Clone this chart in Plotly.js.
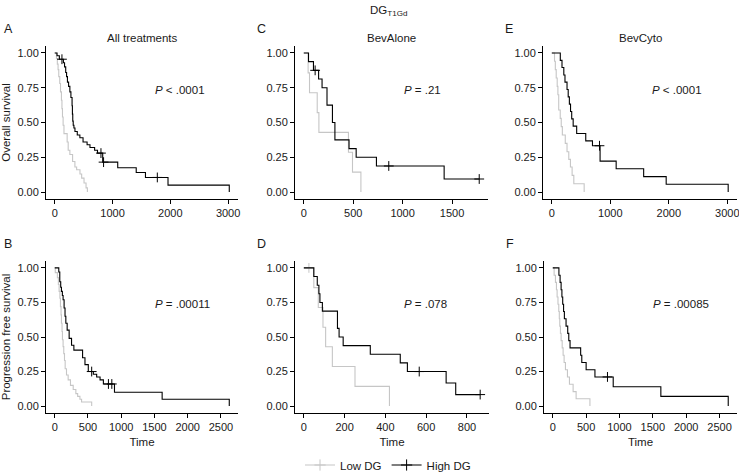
<!DOCTYPE html>
<html><head><meta charset="utf-8">
<script src="https://cdn.plot.ly/plotly-3.0.1.min.js"></script>
<style>html,body{margin:0;padding:0;background:#fff}</style>
</head><body><div id="chart" style="width:739px;height:475px"></div>
<script>
// ---------- Data ----------
const groupNames = ['Low DG', 'High DG'];
const panelLetters = ['A', 'B', 'C', 'D', 'E', 'F'];
const treatmentTitles = ['All treatments', 'BevAlone', 'BevCyto'];
const rowTitles = ['Overall survival', 'Progression free survival'];
const pValues = ['<i>P</i> &lt; .0001', '<i>P</i> = .00011', '<i>P</i> = .21', '<i>P</i> = .078', '<i>P</i> &lt; .0001', '<i>P</i> = .00085'];
const yTickVals = [0, 0.25, 0.5, 0.75, 1];
const xTickSteps = [1000, 500, 500, 200, 1000, 500];

// A: overall survival, all treatments
const osAllLowT = [0, 30, 45, 58, 70, 87, 100, 116, 125, 134, 145, 160, 215, 233, 262, 309, 349, 379, 437, 466, 507, 542, 565];
const osAllLowS = [1, 0.96, 0.92, 0.88, 0.83, 0.78, 0.72, 0.66, 0.60, 0.54, 0.48, 0.42, 0.36, 0.30, 0.27, 0.22, 0.18, 0.16, 0.13, 0.10, 0.065, 0.03, 0];
const osAllLowCens = [];
const osAllHighT = [0, 40, 80, 150, 170, 190, 205, 220, 240, 262, 280, 300, 306, 312, 320, 332, 350, 390, 435, 490, 560, 610, 690, 740, 830, 1090, 1410, 1570, 1960, 3020];
const osAllHighS = [1, 0.98, 0.955, 0.93, 0.90, 0.86, 0.83, 0.79, 0.76, 0.72, 0.68, 0.62, 0.56, 0.51, 0.48, 0.46, 0.435, 0.41, 0.39, 0.36, 0.34, 0.32, 0.30, 0.28, 0.215, 0.175, 0.14, 0.105, 0.05, 0];
const osAllHighCens = [125, 800, 845, 1775];

// B: progression free survival, all treatments
const pfsAllLowT = [0, 8, 40, 55, 66, 78, 86, 95, 101, 110, 116, 126, 136, 147, 157, 177, 202, 237, 278, 318, 345, 379, 404, 556];
const pfsAllLowS = [1, 0.966, 0.93, 0.88, 0.83, 0.78, 0.72, 0.66, 0.60, 0.54, 0.48, 0.43, 0.38, 0.33, 0.27, 0.225, 0.19, 0.15, 0.12, 0.09, 0.07, 0.05, 0.03, 0];
const pfsAllLowCens = [];
const pfsAllHighT = [0, 61, 76, 90, 101, 115, 126, 141, 155, 167, 187, 217, 253, 288, 419, 455, 505, 581, 631, 682, 732, 899, 1616, 2626];
const pfsAllHighS = [1, 0.97, 0.90, 0.86, 0.83, 0.80, 0.77, 0.71, 0.65, 0.60, 0.55, 0.49, 0.44, 0.405, 0.35, 0.30, 0.25, 0.23, 0.21, 0.19, 0.16, 0.10, 0.05, 0];
const pfsAllHighCens = [556, 808, 859];

// C: overall survival, BevAlone
const osBevLowT = [0, 44, 58, 136, 153, 452, 493, 578];
const osBevLowS = [1, 0.857, 0.714, 0.571, 0.429, 0.286, 0.143, 0];
const osBevLowCens = [];
const osBevHighT = [0, 48, 98, 150, 185, 235, 290, 315, 458, 530, 735, 1420];
const osBevHighS = [1, 0.9375, 0.875, 0.8125, 0.75, 0.625, 0.5, 0.375, 0.3125, 0.25, 0.1875, 0.09375];
const osBevHighCens = [115, 860, 1775];

// D: progression free survival, BevAlone
const pfsBevLowT = [0, 49, 71, 94, 107, 140, 251, 420];
const pfsBevLowS = [1, 0.857, 0.714, 0.571, 0.429, 0.286, 0.143, 0];
const pfsBevLowCens = [25];
const pfsBevHighT = [0, 49, 66, 74, 79, 91, 165, 173, 193, 326, 473, 508, 698, 745];
const pfsBevHighS = [1, 0.9375, 0.875, 0.8125, 0.75, 0.6875, 0.5625, 0.5, 0.4375, 0.375, 0.3125, 0.25, 0.1667, 0.0833];
const pfsBevHighCens = [566, 865];

// E: overall survival, BevCyto
const osCytoLowT = [0, 46, 60, 75, 92, 104, 118, 144, 161, 180, 230, 260, 290, 318, 347, 376, 553];
const osCytoLowS = [1, 0.94, 0.88, 0.82, 0.76, 0.70, 0.59, 0.53, 0.47, 0.41, 0.35, 0.29, 0.235, 0.18, 0.12, 0.06, 0];
const osCytoLowCens = [];
const osCytoHighT = [0, 145, 174, 205, 225, 260, 280, 300, 320, 340, 365, 425, 580, 695, 825, 1100, 1570, 1955, 3015];
const osCytoHighS = [1, 0.947, 0.895, 0.842, 0.79, 0.737, 0.684, 0.632, 0.579, 0.526, 0.474, 0.421, 0.368, 0.333, 0.222, 0.167, 0.111, 0.056, 0];
const osCytoHighCens = [815];

// F: progression free survival, BevCyto
const pfsCytoLowT = [0, 20, 40, 55, 65, 78, 90, 98, 105, 115, 125, 141, 155, 170, 190, 220, 250, 305, 350, 557];
const pfsCytoLowS = [1, 0.947, 0.895, 0.842, 0.789, 0.737, 0.684, 0.632, 0.579, 0.526, 0.474, 0.421, 0.368, 0.316, 0.263, 0.211, 0.158, 0.105, 0.053, 0];
const pfsCytoLowCens = [];
const pfsCytoHighT = [0, 92, 110, 125, 137, 149, 162, 174, 199, 224, 240, 259, 418, 435, 500, 632, 906, 1620, 2630];
const pfsCytoHighS = [1, 0.947, 0.895, 0.842, 0.789, 0.737, 0.684, 0.632, 0.579, 0.526, 0.474, 0.421, 0.368, 0.316, 0.263, 0.211, 0.14, 0.07, 0];
const pfsCytoHighCens = [820];

// ---------- Build ----------
const W = 739, H = 475;
const COLORS = ['#c6c6c6', '#000000'];
const FONT = 'Liberation Sans, Arial, Helvetica, sans-serif';
const TXT = '#1a1a1a';

const panelData = [
  [[osAllLowT, osAllLowS, osAllLowCens], [osAllHighT, osAllHighS, osAllHighCens]],
  [[pfsAllLowT, pfsAllLowS, pfsAllLowCens], [pfsAllHighT, pfsAllHighS, pfsAllHighCens]],
  [[osBevLowT, osBevLowS, osBevLowCens], [osBevHighT, osBevHighS, osBevHighCens]],
  [[pfsBevLowT, pfsBevLowS, pfsBevLowCens], [pfsBevHighT, pfsBevHighS, pfsBevHighCens]],
  [[osCytoLowT, osCytoLowS, osCytoLowCens], [osCytoHighT, osCytoHighS, osCytoHighCens]],
  [[pfsCytoLowT, pfsCytoLowS, pfsCytoLowCens], [pfsCytoHighT, pfsCytoHighS, pfsCytoHighCens]]
];
// pixel boxes [x0, x1, y0, y1]
const boxes = [
  [46, 238, 46, 199], [46, 238, 261, 413],
  [295, 488, 46, 199], [295, 489, 261, 413],
  [543, 737, 46, 199], [544, 737, 261, 413]
];

function stepValue(T, S, t) { let s = S[0]; for (let i = 0; i < T.length; i++) if (T[i] <= t) s = S[i]; return s; }

const traces = [];
const layout = {
  width: W, height: H, margin: {l: 0, r: 0, t: 0, b: 0, autoexpand: false},
  paper_bgcolor: '#fff', plot_bgcolor: '#fff',
  font: {family: FONT, size: 11, color: TXT},
  showlegend: true,
  legend: {orientation: 'h', x: 388 / W, xanchor: 'center', y: (H - 465) / H, yanchor: 'middle',
           font: {family: FONT, size: 11.5, color: TXT}, itemwidth: 30, tracegroupgap: 0, bgcolor: 'rgba(0,0,0,0)'},
  annotations: []
};

panelData.forEach((groups, p) => {
  const k = p === 0 ? '' : String(p + 1);
  const xa = 'x' + k, ya = 'y' + k;
  let xmax = 0;
  groups.forEach(([T, S, C], g) => {
    xmax = Math.max(xmax, ...T, ...C);
    const pts = T.map((t, i) => [t, S[i]]);
    C.forEach(c => pts.push([c, stepValue(T, S, c)]));
    pts.sort((a, b) => a[0] - b[0]);
    traces.push({x: pts.map(d => d[0]), y: pts.map(d => d[1]), xaxis: xa, yaxis: ya, type: 'scatter', mode: 'lines',
      line: {shape: 'hv', color: COLORS[g], width: 1.1}, showlegend: false, hoverinfo: 'skip'});
    if (C.length) traces.push({x: C, y: C.map(c => stepValue(T, S, c)), xaxis: xa, yaxis: ya, type: 'scatter', mode: 'markers',
      marker: {symbol: 'cross-thin', size: 7, color: COLORS[g], line: {color: COLORS[g], width: 1}}, showlegend: false, hoverinfo: 'skip'});
  });
  const b = boxes[p];
  const isBottom = p % 2 === 1;
  layout['xaxis' + k] = {
    domain: [b[0] / W, b[1] / W], anchor: ya, range: [-0.05 * xmax, 1.05 * xmax],
    dtick: xTickSteps[p], tick0: 0, showgrid: false, zeroline: false, showline: true, linecolor: '#000', linewidth: 1,
    ticks: 'outside', ticklen: 4, tickwidth: 1, tickcolor: '#000', tickfont: {family: FONT, size: 11, color: TXT},
    ticklabeloverflow: 'allow',
    title: isBottom ? {text: 'Time', font: {family: FONT, size: 11.5, color: TXT}, standoff: 5} : undefined
  };
  layout['yaxis' + k] = {
    domain: [(H - b[3]) / H, (H - b[2]) / H], anchor: xa, range: [-0.05, 1.05],
    tickvals: yTickVals, tickformat: '.2f', showgrid: false, zeroline: false, showline: true, linecolor: '#000', linewidth: 1,
    ticks: 'outside', ticklen: 4, tickwidth: 1, tickcolor: '#000', tickfont: {family: FONT, size: 11, color: TXT},
    title: p < 2 ? {text: rowTitles[p], font: {family: FONT, size: 11.5, color: TXT}, standoff: 4} : undefined
  };
  // panel letter
  layout.annotations.push({xref: 'paper', yref: 'paper', x: (b[0] === 46 ? 1.5 : b[0] - 40) / W, y: (H - (p % 2 ? 244 : 29)) / H,
    xanchor: 'left', yanchor: 'middle', text: panelLetters[p], showarrow: false, font: {family: FONT, size: 12.5, color: TXT}});
  // p value
  layout.annotations.push({xref: 'paper', yref: 'paper', x: (b[0] + 106.5) / W, y: (H - (p % 2 ? 304 : 90)) / H,
    xanchor: 'left', yanchor: 'middle', text: pValues[p], showarrow: false, font: {family: FONT, size: 11.5, color: TXT}});
  // treatment title (top row)
  if (!isBottom) layout.annotations.push({xref: 'paper', yref: 'paper', x: ((b[0] + b[1]) / 2) / W, y: (H - 37.5) / H,
    xanchor: 'center', yanchor: 'middle', text: treatmentTitles[p / 2], showarrow: false, font: {family: FONT, size: 11.5, color: TXT}});
});

// overall title
layout.annotations.push({xref: 'paper', yref: 'paper', x: 388 / W, y: (H - 11) / H, xanchor: 'center', yanchor: 'middle',
  text: 'DG<sub>T1Gd</sub>', showarrow: false, font: {family: FONT, size: 11.5, color: TXT}});

// legend entries (no data points; only used to draw the legend keys)
groupNames.forEach((name, g) => traces.push({x: [null], y: [null], type: 'scatter', mode: 'lines+markers', name: name,
  line: {color: COLORS[g], width: 1.1}, marker: {symbol: 'cross-thin', size: 8, color: COLORS[g], line: {color: COLORS[g], width: 1}},
  showlegend: true, hoverinfo: 'skip'}));

Plotly.newPlot('chart', traces, layout, {staticPlot: true, displayModeBar: false});
</script></body></html>
